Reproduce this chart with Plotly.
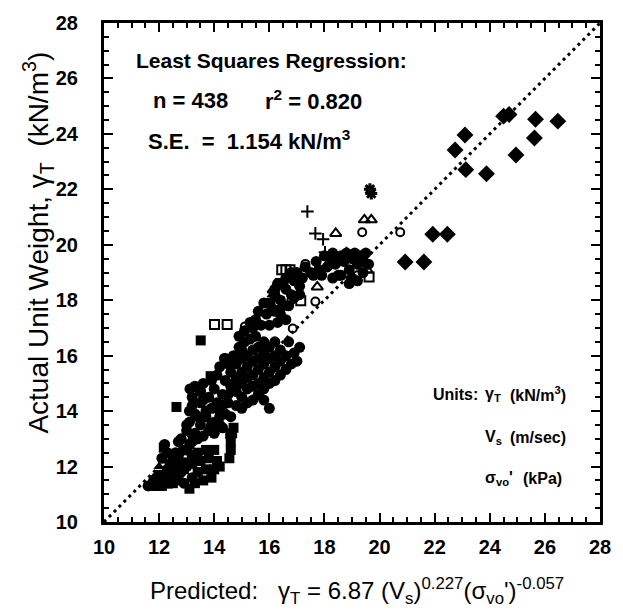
import plotly.graph_objects as go

# ---------------- data ----------------
# filled circles (main cloud)
fc_x = [12.1, 12.3, 12.2, 12.4, 12.8, 13.0, 13.1, 13.3, 13.2, 13.5, 13.7, 13.9, 14.1, 13.6, 13.4,
        13.0, 13.1, 13.2, 13.4, 13.5, 13.5, 13.7, 13.8, 13.9, 14.0, 14.1, 14.2, 14.3, 14.4, 14.5,
        14.6, 14.6, 14.0, 14.3, 14.6, 14.2, 13.12, 13.5, 14.37,
        14.8, 14.8, 14.8, 14.8, 15.0, 15.0, 15.0, 15.0, 15.0, 15.0, 15.2, 15.2, 15.2, 15.2, 15.2,
        15.4, 15.4, 15.4, 15.4, 15.4, 15.6, 15.6, 15.6, 15.6, 15.6, 15.8, 15.8, 15.8, 15.8, 15.8,
        16.0, 16.0, 16.0, 16.0, 16.2, 16.2, 16.2, 16.2, 16.4, 16.4, 16.4, 16.6, 16.6, 16.8, 16.9, 16.7,
        15.8, 16.0, 14.4, 14.7, 14.9, 15.1, 15.3, 15.5,
        15.1, 15.4, 15.7, 16.0, 16.3, 16.6, 15.5, 15.9, 16.2, 16.5,
        16.0, 16.2, 16.4, 16.6, 16.8, 16.3, 16.9, 17.1, 17.0, 16.6,
        17.5, 17.8, 18.1, 18.4, 18.7, 19.0, 19.3, 19.5, 18.0, 18.3, 18.6, 19.2, 18.9, 18.6, 18.3,
        19.0, 19.4, 17.6, 12.6, 12.9, 13.2, 12.7, 11.6, 11.9, 12.5, 12.8,
        11.8, 12.0, 12.2, 12.4, 12.6, 12.8, 13.0, 12.9, 13.2, 12.3, 12.5, 12.7, 13.0, 13.2,
        13.3, 13.6, 13.8, 14.0, 14.2, 14.4, 13.3, 13.6, 13.9, 14.1, 14.3, 14.5, 14.7, 14.2, 14.5,
        14.9, 15.3, 15.6, 15.8, 16.1, 16.4, 16.7, 16.9, 17.1, 16.5, 16.2, 17.2, 16.8, 17.3,
        17.0, 17.1, 17.7, 18.2, 18.5, 18.8, 19.1, 19.4, 19.6, 18.9, 19.2, 18.5, 17.9]
fc_y = [12.3, 12.5, 12.8, 12.1, 13.0, 13.3, 13.6, 13.9, 14.2, 13.5, 13.8, 14.1, 14.3, 14.4, 13.0,
        13.5, 14.0, 14.5, 13.8, 14.3, 14.7, 14.0, 14.5, 13.5, 14.8, 14.2, 13.8, 14.6, 15.1, 14.3,
        14.9, 15.4, 13.6, 13.4, 13.8, 14.0, 14.8, 14.73, 15.9,
        14.2, 14.7, 15.2, 15.7, 14.1, 14.5, 15.0, 15.4, 15.9, 16.2, 14.3, 14.8, 15.2, 15.6, 16.0,
        14.4, 14.9, 15.3, 15.8, 16.2, 14.6, 15.0, 15.5, 15.9, 16.3, 14.8, 15.2, 15.7, 16.1, 16.5,
        15.0, 15.4, 15.9, 16.3, 15.1, 15.6, 16.0, 16.5, 15.3, 15.8, 16.2, 15.5, 16.0, 15.7, 16.1, 16.5,
        14.4, 14.1, 15.9, 16.0, 16.3, 16.5, 16.6, 16.7,
        16.9, 17.0, 17.1, 17.1, 17.2, 17.3, 17.3, 17.5, 17.6, 17.8,
        17.9, 18.2, 18.0, 18.4, 18.2, 18.6, 18.7, 18.5, 19.0, 18.8,
        19.0, 19.1, 19.2, 19.3, 19.4, 19.5, 19.6, 19.7, 19.6, 19.7, 19.6, 19.3, 19.1, 18.9, 18.8,
        18.8, 19.0, 18.9, 12.5, 12.6, 12.4, 12.9, 11.3, 11.6, 11.5, 11.8,
        11.5, 11.4, 11.5, 11.6, 11.9, 12.1, 12.0, 11.4, 11.6, 11.9, 12.2, 12.4, 12.6, 12.9,
        13.2, 13.1, 13.3, 13.2, 13.5, 13.9, 14.9, 15.0, 15.1, 15.3, 14.2, 14.6, 15.0, 15.6, 15.7,
        16.7, 17.2, 17.6, 17.9, 17.7, 17.5, 17.8, 18.1, 18.2, 18.6, 18.4, 18.8, 19.0, 19.2,
        15.8, 16.3, 19.4, 19.4, 19.5, 19.7, 19.7, 19.4, 19.3, 18.6, 18.7, 18.9, 18.9]

# filled squares
fs_x = [13.1, 13.3, 13.6, 13.9, 13.4, 13.7, 14.0, 13.2, 13.5, 13.8, 14.1, 13.4, 13.7, 14.0, 13.1, 14.2,
        14.55, 14.6, 14.6, 14.65, 14.7, 12.63, 12.98, 12.17, 13.87, 13.51, 14.58,
        11.7, 11.9, 12.1, 12.3, 12.5, 12.7, 12.0, 12.2, 12.4, 12.6, 12.9]
fs_y = [11.2, 11.4, 11.5, 11.6, 11.8, 11.9, 11.9, 12.1, 12.2, 12.3, 12.2, 12.5, 12.6, 12.6, 12.8, 12.0,
        12.3, 12.6, 12.9, 13.2, 13.4, 14.15, 12.15, 12.68, 15.26, 16.55, 13.18,
        11.3, 11.3, 11.3, 11.4, 11.4, 11.5, 11.7, 11.6, 11.8, 11.7, 11.9]

# filled triangles
ft_x = [11.9, 12.3, 12.0, 15.6, 15.9, 16.1]
ft_y = [11.4, 11.3, 12.0, 17.5, 17.9, 18.2]

# open squares
os_x = [14.01, 14.47, 16.45, 16.6, 16.75, 17.14, 19.62, 16.4, 16.35]
os_y = [17.12, 17.12, 19.1, 19.1, 19.1, 17.98, 18.84, 18.6, 17.95]

# open circles
oc_x = [19.37, 20.75, 17.31, 17.67, 15.11, 16.85, 19.2, 16.8]
oc_y = [20.45, 20.45, 19.31, 17.95, 17.05, 16.98, 18.9, 18.0]

# open triangles
ot_x = [18.41, 19.45, 19.7, 17.74, 19.55, 16.14, 16.35]
ot_y = [20.41, 20.9, 20.9, 18.48, 19.09, 18.37, 17.59]

# plus signs
pl_x = [17.38, 17.67, 17.95, 18.02, 18.3, 18.8]
pl_y = [21.2, 20.41, 20.2, 19.73, 19.6, 19.7]

# asterisks
as_x = [19.65, 19.7]
as_y = [22.0, 21.85]

# filled diamonds
fd_x = [24.5, 24.7, 25.66, 26.47, 23.1, 25.62, 22.74, 24.95, 23.13, 23.88, 21.93, 22.46, 20.93, 21.61]
fd_y = [24.64, 24.7, 24.53, 24.46, 23.96, 23.85, 23.42, 23.24, 22.71, 22.56, 20.38, 20.38, 19.38, 19.38]

# 1:1 line
line_x = [10, 28]
line_y = [10, 28]

x_ticks = [10, 12, 14, 16, 18, 20, 22, 24, 26, 28]
y_ticks = [10, 12, 14, 16, 18, 20, 22, 24, 26, 28]

FONT = "Liberation Sans, Arial, sans-serif"

fig = go.Figure()

fig.add_trace(go.Scatter(x=line_x, y=line_y, mode="lines",
                         line=dict(color="black", width=3, dash="3px,4px"), hoverinfo="skip"))

def add(x, y, symbol, size, lw=0, color="black"):
    fig.add_trace(go.Scatter(x=x, y=y, mode="markers",
                             marker=dict(symbol=symbol, size=size, color=color,
                                         line=dict(color="black", width=lw))))

add(fc_x, fc_y, "circle", 11)
add(fs_x, fs_y, "square", 10)
add(ft_x, ft_y, "triangle-up", 10)
add(os_x, os_y, "square-open", 9, 2)
add(oc_x, oc_y, "circle-open", 8, 2)
add(ot_x, ot_y, "triangle-up-open", 10, 2)
add(pl_x, pl_y, "cross-thin-open", 9, 2)
add(as_x, as_y, "asterisk-open", 10, 3)
add(fd_x, fd_y, "diamond", 13)

axis_common = dict(
    range=[10, 28], tickvals=x_ticks, ticks="inside", ticklen=9, tickwidth=2,
    tickcolor="black", showline=True, linecolor="black", linewidth=3, mirror="allticks",
    showgrid=False, zeroline=False,
    minor=dict(dtick=0.5, ticks="inside", ticklen=5, tickwidth=1.5, tickcolor="black", showgrid=False),
    tickfont=dict(family=FONT, size=20, color="black", weight="bold"),
)

fig.update_xaxes(**axis_common, ticklabelstandoff=5)
fig.update_yaxes(**{**axis_common, "tickvals": y_ticks}, ticklabelstandoff=19)

ann_font = dict(family=FONT, size=21, color="black", weight="bold")
ann_font2 = dict(family=FONT, size=22, color="black", weight="bold")
units_font = dict(family=FONT, size=16, color="black", weight="bold")

annotations = [
    dict(text="Least Squares Regression:", x=0.061, y=0.924, xanchor="left", yanchor="middle", font=ann_font),
    dict(text="n = 438", x=0.095, y=0.845, xanchor="left", yanchor="middle", font=ann_font2),
    dict(text="r<sup>2</sup> = 0.820", x=0.321, y=0.845, xanchor="left", yanchor="middle", font=ann_font2),
    dict(text="S.E.  =  1.154 kN/m<sup>3</sup>", x=0.085, y=0.765, xanchor="left", yanchor="middle", font=ann_font2),
    dict(text="Units:", x=0.66, y=0.256, xanchor="left", yanchor="middle", font=units_font),
    dict(text="γ<sub>T</sub>", x=0.765, y=0.256, xanchor="left", yanchor="middle", font=units_font),
    dict(text="(kN/m<sup>3</sup>)", x=0.815, y=0.256, xanchor="left", yanchor="middle", font=units_font),
    dict(text="V<sub>s</sub>", x=0.765, y=0.169, xanchor="left", yanchor="middle", font=units_font),
    dict(text="(m/sec)", x=0.815, y=0.169, xanchor="left", yanchor="middle", font=units_font),
    dict(text="σ<sub>vo</sub>'", x=0.765, y=0.087, xanchor="left", yanchor="middle", font=units_font),
    dict(text="(kPa)", x=0.84, y=0.087, xanchor="left", yanchor="middle", font=units_font),
    dict(text="Predicted:   γ<sub>T</sub> = 6.87 (V<sub>s</sub>)<sup>0.227</sup>(σ<sub>vo</sub>')<sup>-0.057</sup>",
         x=0.51, y=-0.139, xanchor="center", yanchor="middle",
         font=dict(family=FONT, size=24, color="black")),
    dict(text="Actual Unit Weight, γ<sub>T</sub>  (kN/m<sup>3</sup>)", x=-0.132, y=0.559,
         xanchor="center", yanchor="middle", textangle=-90,
         font=dict(family=FONT, size=28, color="black")),
]
for a in annotations:
    a.update(xref="paper", yref="paper", showarrow=False)

fig.update_layout(
    width=623, height=610,
    margin=dict(l=104, r=12, t=19, b=88),
    paper_bgcolor="white", plot_bgcolor="white",
    showlegend=False,
    annotations=annotations,
    font=dict(family=FONT, color="black"),
)

fig.write_html("out.html")
